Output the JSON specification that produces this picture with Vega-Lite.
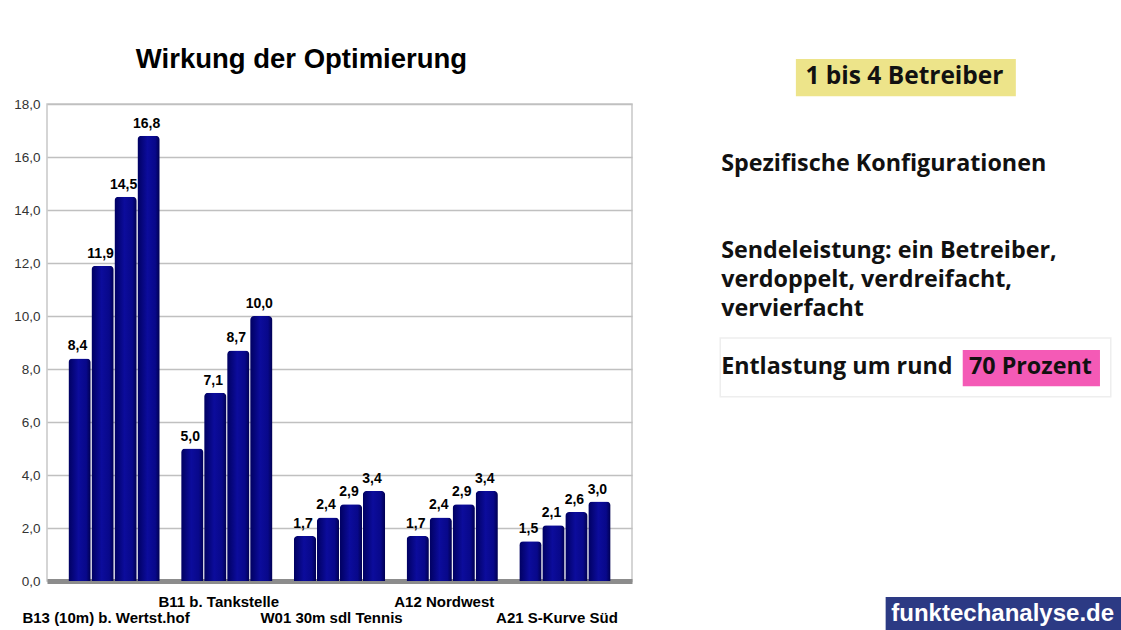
{
  "$schema": "https://vega.github.io/schema/vega-lite/v6.json",
  "background": "white",
  "padding": {"left": 12, "top": 44, "right": 0, "bottom": 0},
  "spacing": 20,
  "config": {
    "locale": {"number": {"decimal": ",", "thousands": ".", "grouping": [3], "currency": ["", " €"]}},
    "view": {"stroke": "#c8c8c8", "strokeWidth": 1.5},
    "font": "Liberation Sans"
  },
  "datasets": {
    "werte": [
      {"standort": "B13 (10m) b. Wertst.hof", "betreiber": 1, "wert": 8.4},
      {"standort": "B13 (10m) b. Wertst.hof", "betreiber": 2, "wert": 11.9},
      {"standort": "B13 (10m) b. Wertst.hof", "betreiber": 3, "wert": 14.5},
      {"standort": "B13 (10m) b. Wertst.hof", "betreiber": 4, "wert": 16.8},
      {"standort": "B11 b. Tankstelle", "betreiber": 1, "wert": 5.0},
      {"standort": "B11 b. Tankstelle", "betreiber": 2, "wert": 7.1},
      {"standort": "B11 b. Tankstelle", "betreiber": 3, "wert": 8.7},
      {"standort": "B11 b. Tankstelle", "betreiber": 4, "wert": 10.0},
      {"standort": "W01 30m sdl Tennis", "betreiber": 1, "wert": 1.7},
      {"standort": "W01 30m sdl Tennis", "betreiber": 2, "wert": 2.4},
      {"standort": "W01 30m sdl Tennis", "betreiber": 3, "wert": 2.9},
      {"standort": "W01 30m sdl Tennis", "betreiber": 4, "wert": 3.4},
      {"standort": "A12 Nordwest", "betreiber": 1, "wert": 1.7},
      {"standort": "A12 Nordwest", "betreiber": 2, "wert": 2.4},
      {"standort": "A12 Nordwest", "betreiber": 3, "wert": 2.9},
      {"standort": "A12 Nordwest", "betreiber": 4, "wert": 3.4},
      {"standort": "A21 S-Kurve Süd", "betreiber": 1, "wert": 1.5},
      {"standort": "A21 S-Kurve Süd", "betreiber": 2, "wert": 2.1},
      {"standort": "A21 S-Kurve Süd", "betreiber": 3, "wert": 2.6},
      {"standort": "A21 S-Kurve Süd", "betreiber": 4, "wert": 3.0}
    ],
    "texte": [
      {"zeile": 0, "art": "Kopf", "text": "1 bis 4 Betreiber"},
      {"zeile": 3, "art": "Punkt", "text": "Spezifische Konfigurationen"},
      {"zeile": 6, "art": "Punkt", "text": "Sendeleistung: ein Betreiber,"},
      {"zeile": 7, "art": "Punkt", "text": "verdoppelt, verdreifacht,"},
      {"zeile": 8, "art": "Punkt", "text": "vervierfacht"},
      {"zeile": 10, "art": "Punkt", "text": "Entlastung um rund"},
      {"zeile": 10, "art": "Betont", "text": "70 Prozent"},
      {"zeile": 19, "art": "Logo", "text": "funktechanalyse.de"}
    ]
  },
  "hconcat": [
    {
      "width": 585,
      "height": 477,
      "title": {
        "text": "Wirkung der Optimierung",
        "fontSize": 27.5,
        "fontWeight": "bold",
        "font": "Liberation Sans",
        "color": "#000000",
        "anchor": "middle",
        "dx": -38,
        "offset": 24
      },
      "data": {"name": "werte"},
      "encoding": {
        "x": {
          "field": "standort",
          "type": "nominal",
          "sort": null,
          "scale": {"paddingInner": 0.19, "paddingOuter": 0.19},
          "axis": {
            "title": null,
            "labelAngle": 0,
            "ticks": false,
            "domainColor": "#8c8c8c",
            "domainWidth": 5,
            "labelFont": "Liberation Sans",
            "labelFontSize": 15,
            "labelFontWeight": "bold",
            "labelColor": "#000000",
            "labelPadding": 13,
            "labelLineHeight": 16,
            "labelOffset": -8,
            "labelLimit": 300,
            "labelExpr": "indexof(['B11 b. Tankstelle', 'A12 Nordwest'], datum.value) >= 0 ? datum.value : ['', datum.value]"
          }
        },
        "xOffset": {"field": "betreiber", "type": "ordinal", "scale": {"paddingInner": 0.03}},
        "y": {
          "field": "wert",
          "type": "quantitative",
          "scale": {"domain": [0, 18]},
          "axis": {
            "title": null,
            "values": [0, 2, 4, 6, 8, 10, 12, 14, 16, 18],
            "format": ".1f",
            "ticks": false,
            "domain": false,
            "labelFont": "Liberation Sans",
            "labelFontSize": 13.5,
            "labelColor": "#333333",
            "labelPadding": 7,
            "gridColor": "#c0c0c0",
            "gridWidth": 1.5
          }
        }
      },
      "layer": [
        {
          "mark": {
            "type": "bar",
            "cornerRadiusTopLeft": 4,
            "cornerRadiusTopRight": 4,
            "color": {
              "gradient": "linear",
              "x1": 0, "x2": 1, "y1": 0, "y2": 0,
              "stops": [
                {"offset": 0, "color": "#000060"},
                {"offset": 0.45, "color": "#0c0c9c"},
                {"offset": 0.8, "color": "#08088a"},
                {"offset": 1, "color": "#000050"}
              ]
            }
          }
        },
        {
          "mark": {"type": "text", "dy": -12, "dx": -2, "fontWeight": "bold", "fontSize": 14, "font": "Liberation Sans", "color": "#000000"},
          "encoding": {"text": {"field": "wert", "type": "quantitative", "format": ".1f"}}
        }
      ]
    },
    {
      "width": 470,
      "height": 517,
      "view": {"stroke": null},
      "data": {"name": "texte"},
      "layer": [
        {
          "transform": [{"filter": "datum.art == 'Kopf'"}],
          "mark": {"type": "rect", "color": "#ede48a"},
          "encoding": {
            "x": {"datum": 30.4, "type": "quantitative", "scale": {"domain": [0, 100]}, "axis": null},
            "x2": {"datum": 77.2},
            "y": {"datum": -0.62, "type": "quantitative", "scale": {"domain": [0.931, 18.759], "reverse": true}, "axis": null},
            "y2": {"datum": 0.66}
          }
        },
        {
          "transform": [{"filter": "datum.art == 'Betont'"}],
          "mark": {"type": "rect", "fill": null, "stroke": "#eeeeee", "strokeWidth": 1.5},
          "encoding": {
            "x": {"datum": 14.3, "type": "quantitative", "scale": {"domain": [0, 100]}, "axis": null},
            "x2": {"datum": 97.4},
            "y": {"datum": 9.0, "type": "quantitative", "scale": {"domain": [0.931, 18.759], "reverse": true}, "axis": null},
            "y2": {"datum": 11.03}
          }
        },
        {
          "transform": [{"filter": "datum.art == 'Betont'"}],
          "mark": {"type": "rect", "color": "#f45ab6"},
          "encoding": {
            "x": {"datum": 65.9, "type": "quantitative", "scale": {"domain": [0, 100]}, "axis": null},
            "x2": {"datum": 95.1},
            "y": {"datum": 9.41, "type": "quantitative", "scale": {"domain": [0.931, 18.759], "reverse": true}, "axis": null},
            "y2": {"datum": 10.66}
          }
        },
        {
          "transform": [{"filter": "datum.art == 'Logo'"}],
          "mark": {"type": "rect", "color": "#2c3a84"},
          "encoding": {
            "x": {"datum": 49.5, "type": "quantitative", "scale": {"domain": [0, 100]}, "axis": null},
            "x2": {"datum": 100.5},
            "y": {"datum": 17.93, "type": "quantitative", "scale": {"domain": [0.931, 18.759], "reverse": true}, "axis": null},
            "y2": {"datum": 19.25}
          }
        },
        {
          "transform": [{"filter": "datum.art == 'Kopf'"}],
          "mark": {"type": "text", "align": "center", "baseline": "middle", "font": "Open Sans", "fontWeight": "bold", "fontSize": 24.5, "color": "#111111"},
          "encoding": {
            "x": {"datum": 53.5, "type": "quantitative", "scale": {"domain": [0, 100]}, "axis": null},
            "y": {"field": "zeile", "type": "quantitative", "scale": {"domain": [0.931, 18.759], "reverse": true}, "axis": null},
            "text": {"field": "text"}
          }
        },
        {
          "transform": [{"filter": "datum.art == 'Punkt'"}],
          "mark": {"type": "text", "align": "left", "baseline": "middle", "font": "Open Sans", "fontWeight": "bold", "fontSize": 23.3, "color": "#111111"},
          "encoding": {
            "x": {"datum": 14.5, "type": "quantitative", "scale": {"domain": [0, 100]}, "axis": null},
            "y": {"field": "zeile", "type": "quantitative", "scale": {"domain": [0.931, 18.759], "reverse": true}, "axis": null},
            "text": {"field": "text"}
          }
        },
        {
          "transform": [{"filter": "datum.art == 'Betont'"}],
          "mark": {"type": "text", "align": "center", "baseline": "middle", "font": "Open Sans", "fontWeight": "bold", "fontSize": 23.3, "color": "#111111"},
          "encoding": {
            "x": {"datum": 80.3, "type": "quantitative", "scale": {"domain": [0, 100]}, "axis": null},
            "y": {"field": "zeile", "type": "quantitative", "scale": {"domain": [0.931, 18.759], "reverse": true}, "axis": null},
            "text": {"field": "text"}
          }
        },
        {
          "transform": [{"filter": "datum.art == 'Logo'"}],
          "mark": {"type": "text", "align": "center", "baseline": "middle", "font": "Liberation Sans", "fontWeight": "bold", "fontSize": 24, "color": "#ffffff"},
          "encoding": {
            "x": {"datum": 74.4, "type": "quantitative", "scale": {"domain": [0, 100]}, "axis": null},
            "y": {"datum": 18.52, "type": "quantitative", "scale": {"domain": [0.931, 18.759], "reverse": true}, "axis": null},
            "text": {"field": "text"}
          }
        }
      ]
    }
  ]
}
